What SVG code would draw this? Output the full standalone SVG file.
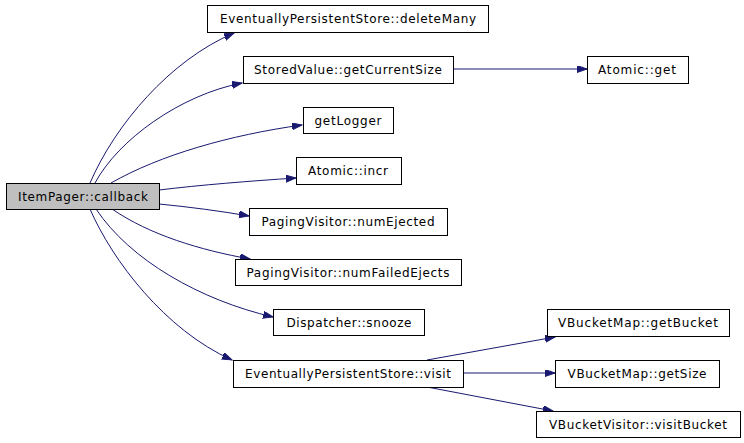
<svg xmlns="http://www.w3.org/2000/svg" width="744" height="443" viewBox="0 0 744 443">
<style>
.n rect{fill:#ffffff;stroke:#000000;stroke-width:1}
.n.root rect{fill:#bfbfbf}
.n text{font-family:"DejaVu Sans",sans-serif;font-size:12px;fill:#000000;text-anchor:middle}
.e path{fill:none;stroke:#191970;stroke-width:1}
</style>
<defs>
<marker id="ah" markerUnits="userSpaceOnUse" markerWidth="11" markerHeight="8" refX="10" refY="3.5" orient="auto">
<path d="M0,0 L10,3.5 L0,7 z" fill="#191970" stroke="#191970" stroke-width="1"/>
</marker>
</defs>
<rect width="744" height="443" fill="#ffffff"/>
<g id="edges" class="e">
<path d="M90,183 C115,125 170,60 234,33" marker-end="url(#ah)"/>
<path d="M95,183 C118,140 180,95 242,83" marker-end="url(#ah)"/>
<path d="M111,183 C160,155 230,135 302,125" marker-end="url(#ah)"/>
<path d="M159,190 C200,185 250,181 296,178" marker-end="url(#ah)"/>
<path d="M159,204 C190,207 220,211 249,216" marker-end="url(#ah)"/>
<path d="M112,209 C150,235 200,250 250,259" marker-end="url(#ah)"/>
<path d="M96,209 C130,260 200,300 273,317" marker-end="url(#ah)"/>
<path d="M90,209 C112,260 165,330 232,360" marker-end="url(#ah)"/>
<path d="M453,69 L587,69" marker-end="url(#ah)"/>
<path d="M427,360 L555,337" marker-end="url(#ah)"/>
<path d="M463,373 L555,373" marker-end="url(#ah)"/>
<path d="M427,387 L553,411" marker-end="url(#ah)"/>
</g>
<g id="callback" class="n root"><rect x="6.5" y="183.5" width="153" height="26"/><text x="83" y="200.5" textLength="130">ItemPager::callback</text></g>
<g id="deleteMany" class="n"><rect x="207.5" y="5.5" width="281" height="27"/><text x="348" y="23" textLength="256">EventuallyPersistentStore::deleteMany</text></g>
<g id="getCurrentSize" class="n"><rect x="243.5" y="56.5" width="210" height="27"/><text x="348" y="74" textLength="188">StoredValue::getCurrentSize</text></g>
<g id="atomicGet" class="n"><rect x="587.5" y="56.5" width="101" height="27"/><text x="637" y="74" textLength="78">Atomic::get</text></g>
<g id="getLogger" class="n"><rect x="303.5" y="107.5" width="90" height="26"/><text x="348" y="124.5" textLength="67">getLogger</text></g>
<g id="atomicIncr" class="n"><rect x="296.5" y="157.5" width="105" height="27"/><text x="348" y="175" textLength="80">Atomic::incr</text></g>
<g id="numEjected" class="n"><rect x="249.5" y="208.5" width="198" height="27"/><text x="348" y="226" textLength="173">PagingVisitor::numEjected</text></g>
<g id="numFailedEjects" class="n"><rect x="235.5" y="259.5" width="226" height="26"/><text x="348" y="276.5" textLength="203">PagingVisitor::numFailedEjects</text></g>
<g id="snooze" class="n"><rect x="273.5" y="309.5" width="151" height="26"/><text x="349" y="326.5" textLength="125">Dispatcher::snooze</text></g>
<g id="visit" class="n"><rect x="233.5" y="360.5" width="230" height="27"/><text x="348" y="378" textLength="206">EventuallyPersistentStore::visit</text></g>
<g id="getBucket" class="n"><rect x="547.5" y="309.5" width="182" height="27"/><text x="638" y="327" textLength="160">VBucketMap::getBucket</text></g>
<g id="getSize" class="n"><rect x="555.5" y="360.5" width="164" height="27"/><text x="637" y="378" textLength="139">VBucketMap::getSize</text></g>
<g id="visitBucket" class="n"><rect x="536.5" y="411.5" width="204" height="26"/><text x="638" y="428.5" textLength="178">VBucketVisitor::visitBucket</text></g>
</svg>
